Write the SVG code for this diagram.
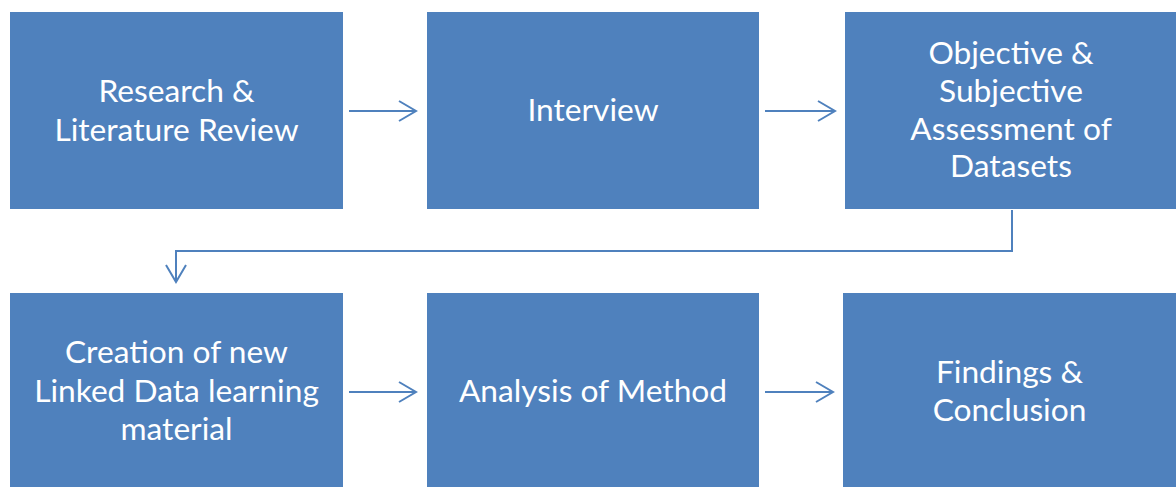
<svg xmlns="http://www.w3.org/2000/svg" width="1176" height="487" viewBox="0 0 1176 487">
<style>
.box{fill:#4F81BD;}
.lbl{fill:#FFFFFF;font-family:Lato,"Open Sans","Liberation Sans",sans-serif;font-size:31.7px;text-anchor:middle;}
.con{fill:none;stroke:#4F81BD;stroke-width:2;}
</style>
<defs>
<marker id="arr" markerWidth="20" markerHeight="24" refX="18" refY="11" orient="auto" markerUnits="userSpaceOnUse">
<path d="M1,1 L18,11 L1,21" fill="none" stroke="#4F81BD" stroke-width="2"/>
</marker>
</defs>
<rect width="1176" height="487" fill="#FFFFFF"/>
<g id="n1"><rect class="box" x="10" y="12" width="333" height="197"/>
<text class="lbl" x="176.5" y="102">Research &amp;</text><text class="lbl" x="176.5" y="141">Literature Review</text></g>
<g id="n2"><rect class="box" x="427" y="12" width="332" height="197"/>
<text class="lbl" x="593" y="121">Interview</text></g>
<g id="n3"><rect class="box" x="845" y="12" width="331" height="197"/>
<text class="lbl" x="1011" y="64">Objective &amp;</text><text class="lbl" x="1011" y="102">Subjective</text><text class="lbl" x="1011" y="140">Assessment of</text><text class="lbl" x="1011" y="177">Datasets</text></g>
<g id="n4"><rect class="box" x="10" y="293" width="333" height="194"/>
<text class="lbl" x="176.5" y="363">Creation of new</text><text class="lbl" x="176.5" y="402">Linked Data learning</text><text class="lbl" x="176.5" y="440">material</text></g>
<g id="n5"><rect class="box" x="427" y="293" width="332" height="194"/>
<text class="lbl" x="593" y="402">Analysis of Method</text></g>
<g id="n6"><rect class="box" x="843" y="293" width="333" height="194"/>
<text class="lbl" x="1009.5" y="383">Findings &amp;</text><text class="lbl" x="1009.5" y="421">Conclusion</text></g>
<g id="connectors">
<path class="con" d="M349,111 L416,111" marker-end="url(#arr)"/>
<path class="con" d="M765,111 L835,111" marker-end="url(#arr)"/>
<path class="con" d="M1012,210 L1012,251 L176,251 L176,282" marker-end="url(#arr)"/>
<path class="con" d="M349,392 L416,392" marker-end="url(#arr)"/>
<path class="con" d="M765,392 L833,392" marker-end="url(#arr)"/>
</g>
</svg>
